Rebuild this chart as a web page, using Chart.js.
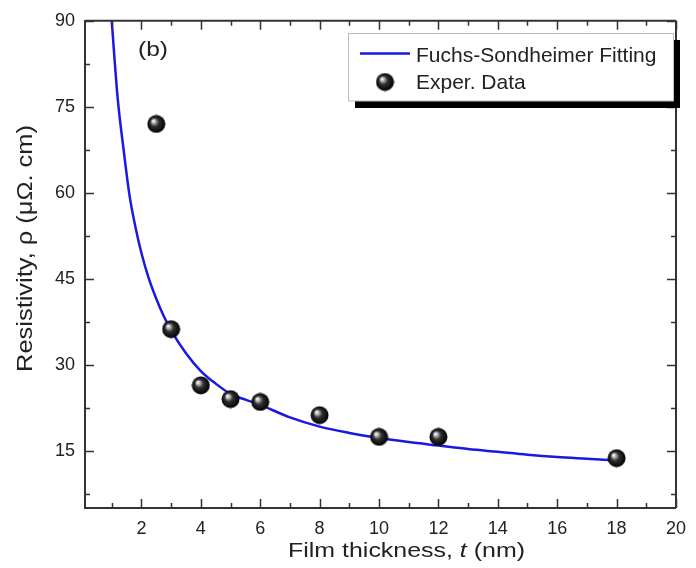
<!DOCTYPE html>
<html>
<head>
<meta charset="utf-8">
<script src="https://cdn.jsdelivr.net/npm/chart.js"></script>
<style>
  html, body { margin: 0; padding: 0; background: #fff; }
  #wrap { width: 696px; height: 568px; position: relative; }
</style>
</head>
<body>
<div id="wrap"><canvas id="chart"></canvas></div>
<script>
// film thickness t (nm) and measured resistivity (uOhm.cm)
var expT = [2.5, 3, 4, 5, 6, 8, 10, 12, 18];
var expRho = [72, 36.2, 26.4, 24.0, 23.5, 21.2, 17.4, 17.4, 13.7];

// Fuchs-Sondheimer fit curve
var fitT = [1, 1.2, 1.4, 1.6, 1.8, 2, 2.25, 2.5, 2.75, 3, 3.5, 4, 4.5, 5, 5.5, 6, 7, 8, 9, 10, 11, 12, 13, 14, 15, 16, 17, 18];
var fitRho = [90, 76.5, 67.5, 59.5, 54, 49.5, 45, 41.5, 38.5, 36, 32, 28.9, 26.7, 24.9, 23.9, 23.0, 20.8, 19.2, 18.1, 17.2, 16.5, 15.9, 15.3, 14.8, 14.3, 13.9, 13.6, 13.3];

var xTicks = [2, 4, 6, 8, 10, 12, 14, 16, 18, 20];
var yTicks = [15, 30, 45, 60, 75, 90];
var xMinor = [1, 3, 5, 7, 9, 11, 13, 15, 17, 19];
var yMinor = [7.5, 22.5, 37.5, 52.5, 67.5, 82.5];

var FONT = "'Liberation Sans', Arial, sans-serif";
var BLUE = "rgb(25,25,225)";

// shiny black ball used for the data points
function makeBall(r) {
  var c = document.createElement('canvas');
  c.width = c.height = r * 2 + 1;
  var g = c.getContext('2d');
  var cx = r + 0.5, cy = r + 0.5;
  var grad = g.createRadialGradient(cx - r * 0.35, cy - r * 0.35, 0.5, cx, cy, r);
  grad.addColorStop(0, '#ffffff');
  grad.addColorStop(0.18, '#b0b0b0');
  grad.addColorStop(0.45, '#303030');
  grad.addColorStop(1, '#000000');
  g.fillStyle = grad;
  g.beginPath();
  g.arc(cx, cy, r, 0, Math.PI * 2);
  g.fill();
  return c;
}
var ball = makeBall(9);

function fitText(ctx, parts, width, size) {
  // parts: [text, style]; stretched to the wanted width
  var total = 0;
  parts.forEach(function (p) {
    ctx.font = p[1] + ' ' + size + 'px ' + FONT;
    total += ctx.measureText(p[0]).width;
  });
  var sx = width / total;
  ctx.scale(sx, 1);
  var x = 0;
  parts.forEach(function (p) {
    ctx.font = p[1] + ' ' + size + 'px ' + FONT;
    ctx.fillText(p[0], x, 0);
    x += ctx.measureText(p[0]).width;
  });
}

var frame = {
  id: 'frame',
  afterDraw: function (chart) {
    var ctx = chart.ctx, a = chart.chartArea;
    var xs = chart.scales.x, ys = chart.scales.y;
    ctx.save();
    ctx.strokeStyle = '#333';
    ctx.lineWidth = 2;
    ctx.beginPath();
    ctx.moveTo(a.left, a.top); ctx.lineTo(a.right, a.top);
    ctx.moveTo(a.right, a.top); ctx.lineTo(a.right, a.bottom);
    ctx.stroke();

    ctx.lineWidth = 1.5;
    ctx.beginPath();
    function xt(v, len) {
      var p = Math.round(xs.getPixelForValue(v)) + 0.5;
      ctx.moveTo(p, a.bottom); ctx.lineTo(p, a.bottom - len);
      ctx.moveTo(p, a.top); ctx.lineTo(p, a.top + len);
    }
    function yt(v, len) {
      var p = Math.round(ys.getPixelForValue(v)) + 0.5;
      ctx.moveTo(a.left, p); ctx.lineTo(a.left + len, p);
      ctx.moveTo(a.right, p); ctx.lineTo(a.right - len, p);
    }
    xTicks.forEach(function (v) { xt(v, 9); });
    xMinor.forEach(function (v) { xt(v, 5); });
    yTicks.forEach(function (v) { yt(v, 9); });
    yMinor.forEach(function (v) { yt(v, 5); });
    ctx.stroke();

    ctx.fillStyle = '#222';
    ctx.textBaseline = 'alphabetic';
    ctx.textAlign = 'left';

    // x title
    ctx.save();
    ctx.translate(288, 557);
    fitText(ctx, [['Film thickness, ', 'normal'], ['t', 'italic'], [' (nm)', 'normal']], 237, 21);
    ctx.restore();

    // y title
    ctx.save();
    ctx.translate(32, 372);
    ctx.rotate(-Math.PI / 2);
    fitText(ctx, [['Resistivity, \u03C1 (\u03BC\u03A9. cm)', 'normal']], 247, 22);
    ctx.restore();

    // panel label
    ctx.save();
    ctx.translate(138, 56);
    fitText(ctx, [['(b)', 'normal']], 30, 20);
    ctx.restore();

    // legend
    ctx.fillStyle = '#000';
    ctx.fillRect(673, 40, 7, 68);
    ctx.fillRect(355, 101, 325, 7);
    ctx.fillStyle = '#fff';
    ctx.fillRect(348.5, 33.5, 325, 67.5);
    ctx.strokeStyle = '#bbb';
    ctx.lineWidth = 1;
    ctx.strokeRect(348.5, 33.5, 325, 67.5);
    ctx.strokeStyle = BLUE;
    ctx.lineWidth = 2.5;
    ctx.beginPath();
    ctx.moveTo(360, 53.5); ctx.lineTo(410, 53.5);
    ctx.stroke();
    ctx.drawImage(ball, 385 - ball.width / 2, 82 - ball.height / 2);
    ctx.fillStyle = '#222';
    ctx.font = '21px ' + FONT;
    ctx.fillText(chart.data.datasets[1].label, 416, 61.5);
    ctx.fillText(chart.data.datasets[0].label, 416, 88.5);
    ctx.restore();
  }
};

new Chart('chart', {
  type: 'scatter',
  data: {
    datasets: [
      {
        label: 'Exper. Data',
        data: expT.map(function (t, i) { return { x: t, y: expRho[i] }; }),
        pointStyle: ball,
        pointRadius: 9,
        order: 0
      },
      {
        type: 'line',
        label: 'Fuchs-Sondheimer Fitting',
        data: fitT.map(function (t, i) { return { x: t, y: fitRho[i] }; }),
        borderColor: BLUE,
        borderWidth: 2.5,
        pointRadius: 0,
        fill: false,
        cubicInterpolationMode: 'monotone',
        order: 1
      }
    ]
  },
  options: {
    responsive: true,
    maintainAspectRatio: false,
    animation: false,
    layout: { padding: { left: 0, right: 10, top: 19, bottom: 0 } },
    plugins: { legend: { display: false }, tooltip: { enabled: false } },
    scales: {
      x: {
        type: 'linear',
        min: 0.1,
        max: 20,
        grid: { display: false, drawTicks: false },
        border: { display: true, color: '#333', width: 2 },
        ticks: { font: { size: 18, family: FONT }, color: '#222', padding: 10, maxRotation: 0, autoSkip: false },
        afterBuildTicks: function (s) { s.ticks = xTicks.map(function (v) { return { value: v }; }); },
        afterFit: function (s) { s.height = 60; }
      },
      y: {
        min: 5,
        max: 90,
        grid: { display: false, drawTicks: false },
        border: { display: true, color: '#333', width: 2 },
        ticks: { font: { size: 18, family: FONT }, color: '#222', padding: 10 },
        afterBuildTicks: function (s) { s.ticks = yTicks.map(function (v) { return { value: v }; }); },
        afterFit: function (s) { s.width = 85; }
      }
    }
  },
  plugins: [frame]
});
</script>
</body>
</html>
